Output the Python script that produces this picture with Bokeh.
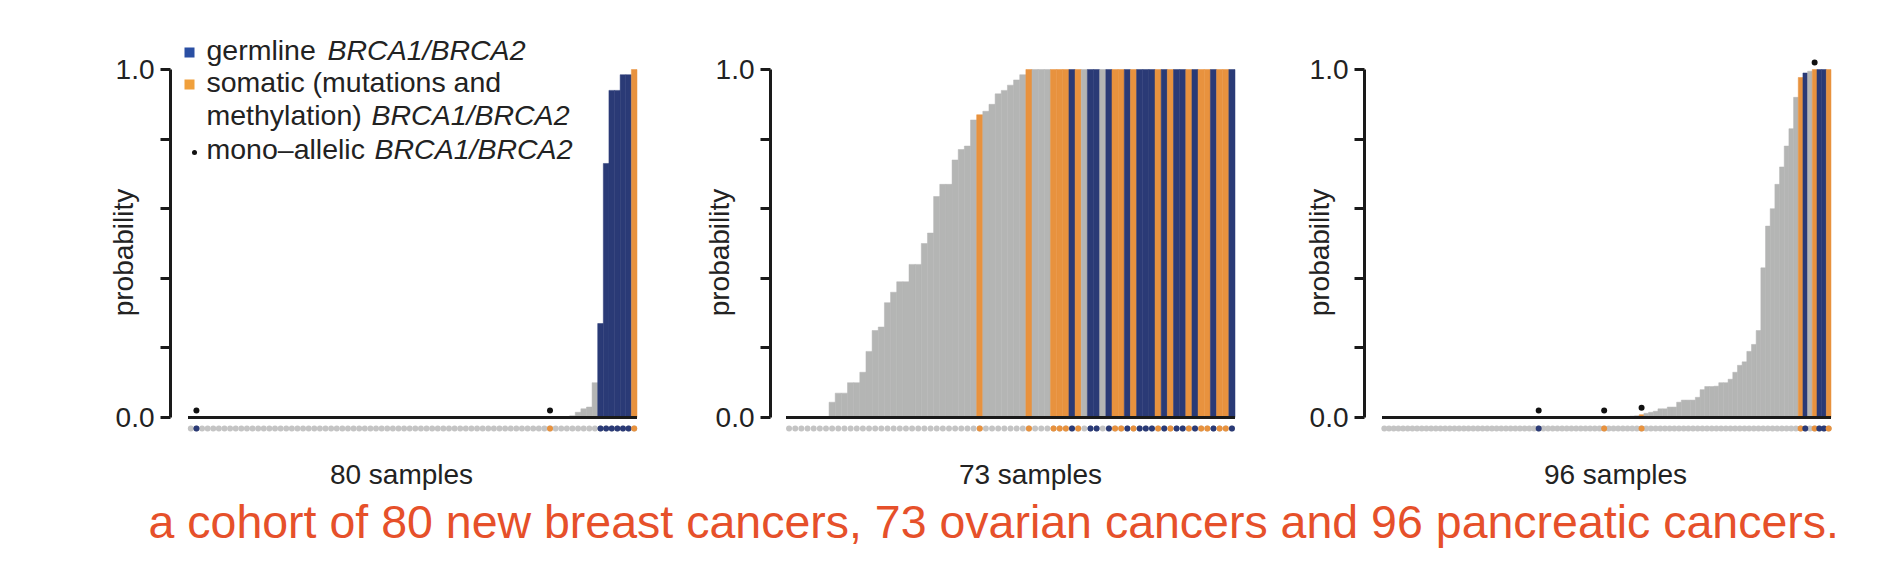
from bokeh.plotting import figure
from bokeh.models import Range1d, FixedTicker, CustomJSTickFormatter, ColumnDataSource
from bokeh.layouts import column, row
from bokeh.embed import file_html
from bokeh.resources import INLINE
from bokeh.core.properties import value

# ---------------- data ----------------
breast_prob = [
    0, 0, 0, 0, 0, 0, 0, 0, 0, 0,
    0, 0, 0, 0, 0, 0, 0, 0, 0, 0,
    0, 0, 0, 0, 0, 0, 0, 0, 0, 0,
    0, 0, 0, 0, 0, 0, 0, 0, 0, 0,
    0, 0, 0, 0, 0, 0, 0, 0, 0, 0,
    0, 0, 0, 0, 0, 0, 0, 0, 0, 0,
    0, 0, 0, 0, 0, 0, 0, 0, 0.005, 0.015,
    0.025, 0.03, 0.10, 0.27, 0.73, 0.94, 0.94, 0.985, 0.985, 1.0,
]
breast_germline = [1, 73, 74, 75, 76, 77, 78]
breast_somatic = [64, 79]
breast_mono = [1, 64]

ovarian_prob = [
    0, 0, 0, 0, 0, 0, 0, 0.044, 0.07, 0.07,
    0.10, 0.10, 0.13, 0.19, 0.25, 0.26, 0.33, 0.36, 0.39, 0.39,
    0.44, 0.44, 0.50, 0.53, 0.635, 0.67, 0.67, 0.74, 0.77, 0.78,
    0.855, 0.87, 0.88, 0.90, 0.93, 0.94, 0.955, 0.97, 0.985, 1.0,
    1.0, 1.0, 1.0, 1.0, 1.0, 1.0, 1.0, 1.0, 1.0, 1.0,
    1.0, 1.0, 1.0, 1.0, 1.0, 1.0, 1.0, 1.0, 1.0, 1.0,
    1.0, 1.0, 1.0, 1.0, 1.0, 1.0, 1.0, 1.0, 1.0, 1.0,
    1.0, 1.0, 1.0,
]
ovarian_germline = [46, 49, 50, 52, 55, 57, 58, 59, 61, 63, 64, 66, 69, 72]
ovarian_somatic = [31, 39, 43, 44, 45, 47, 53, 54, 56, 60, 62, 65, 67, 68, 70, 71]
ovarian_mono = []

pancreatic_prob = [
    0, 0, 0, 0, 0, 0, 0, 0, 0, 0,
    0, 0, 0, 0, 0, 0, 0, 0, 0, 0,
    0, 0, 0, 0, 0, 0, 0, 0, 0, 0,
    0, 0, 0, 0, 0, 0, 0, 0, 0, 0,
    0, 0, 0, 0, 0, 0, 0, 0, 0, 0,
    0, 0.002, 0.003, 0.004, 0.005, 0.008, 0.012, 0.015, 0.018, 0.025,
    0.025, 0.03, 0.03, 0.044, 0.05, 0.05, 0.05, 0.058, 0.08, 0.089,
    0.089, 0.09, 0.10, 0.10, 0.11, 0.13, 0.15, 0.16, 0.19, 0.21,
    0.25, 0.43, 0.55, 0.60, 0.67, 0.72, 0.78, 0.83, 0.92, 0.977,
    0.99, 0.995, 1.0, 1.0, 1.0, 1.0,
]
pancreatic_germline = [33, 90, 93, 94]
pancreatic_somatic = [47, 55, 89, 92, 95]
pancreatic_mono = [33, 47, 55, 92]

panel_labels = ["80 samples", "73 samples", "96 samples"]
legend_labels = [("germline ", "BRCA1/BRCA2"),
                 ("somatic (mutations and", ""),
                 ("methylation) ", "BRCA1/BRCA2"),
                 ("mono\u2013allelic ", "BRCA1/BRCA2")]
caption = "a cohort of 80 new breast cancers, 73 ovarian cancers and 96 pancreatic cancers."

# ---------------- style ----------------
GRAY = "#b4b5b4"
BLUE = "#2a3a76"
ORANGE = "#e8923e"
DOT_GRAY = "#c4c4c4"
TXT = "#222222"
AX = "#1a1a1a"
FONT = "Liberation Sans"

Y0_PX, PX_PER_UNIT = 417.0, 348.0        # page y of prob 0, px per prob unit
FRAME_TOP, FRAME_BOTTOM = 12, 492
FRAME_H = FRAME_BOTTOM - FRAME_TOP
BAR_SPAN = 449.0
Y_START = (Y0_PX - FRAME_BOTTOM) / PX_PER_UNIT
Y_END = (Y0_PX - FRAME_TOP) / PX_PER_UNIT
DOT_Y = -11.0 / PX_PER_UNIT
MONO_OFF = 0.02
LABEL_Y_PX = 474


def make_panel(prob, germ, som, mono, label, label_center_px,
               fig_left, border_left, frame_w, border_right, bar_gap_px,
               tick_standoff, label_standoff):
    n = len(prob)
    ppb = BAR_SPAN / n
    frame_left = fig_left + border_left
    bar_start = frame_left + bar_gap_px
    x0 = -bar_gap_px / ppb
    p = figure(frame_width=frame_w, frame_height=FRAME_H,
               min_border_left=border_left, min_border_right=border_right,
               min_border_top=FRAME_TOP, min_border_bottom=0,
               x_range=Range1d(x0, x0 + frame_w / ppb),
               y_range=Range1d(Y_START, Y_END),
               x_axis_location=None, y_axis_location="left",
               toolbar_location=None, output_backend="svg",
               outline_line_color=None, background_fill_color="white",
               border_fill_color="white")
    p.grid.grid_line_color = None

    colors = []
    for i in range(n):
        if i in germ:
            colors.append(BLUE)
        elif i in som:
            colors.append(ORANGE)
        else:
            colors.append(GRAY)
    xs = [i + 0.5 for i in range(n)]
    src = ColumnDataSource(dict(x=xs, top=prob, color=colors))
    p.vbar(x="x", width=1, top="top", bottom=0, fill_color="color",
           line_color="color", line_width=0.5, source=src)
    p.segment(x0=[0], y0=[0], x1=[n], y1=[0], line_width=3, line_color=AX)

    # sample status dot row
    p.scatter(x=xs, y=[DOT_Y] * n, size=6, marker="circle",
              fill_color=DOT_GRAY, line_color=None)
    cidx = [i for i in range(n) if colors[i] != GRAY]
    p.scatter(x=[xs[i] for i in cidx], y=[DOT_Y] * len(cidx), size=6,
              marker="circle", fill_color=[colors[i] for i in cidx], line_color=None)

    # mono-allelic markers
    if mono:
        p.scatter(x=[xs[i] for i in mono], y=[prob[i] + MONO_OFF for i in mono],
                  size=6, marker="circle", fill_color="#111111", line_color=None)

    p.text(x=[(label_center_px - bar_start) / ppb],
           y=[(Y0_PX - LABEL_Y_PX) / PX_PER_UNIT],
           text=[label], text_align="center", text_baseline="middle",
           text_font=value(FONT), text_font_size="28px", text_color=TXT)

    ax = p.yaxis[0]
    ax.ticker = FixedTicker(ticks=[0, 0.2, 0.4, 0.6, 0.8, 1.0])
    ax.formatter = CustomJSTickFormatter(
        code="return (Math.abs(tick) < 1e-6 || Math.abs(tick - 1) < 1e-6) ? tick.toFixed(1) : '';")
    ax.bounds = (0, 1)
    ax.axis_line_width = 3
    ax.axis_line_color = AX
    ax.major_tick_line_width = 3
    ax.major_tick_line_color = AX
    ax.major_tick_out = 10
    ax.major_tick_in = 0
    ax.minor_tick_line_color = None
    ax.major_label_text_font = FONT
    ax.major_label_text_font_size = "28px"
    ax.major_label_text_color = TXT
    ax.major_label_standoff = tick_standoff
    ax.axis_label = "probability"
    ax.axis_label_text_font = FONT
    ax.axis_label_text_font_style = "normal"
    ax.axis_label_text_font_size = "28px"
    ax.axis_label_text_color = TXT
    ax.axis_label_standoff = label_standoff
    return p, ppb, bar_start


p1, ppb1, bs1 = make_panel(breast_prob, breast_germline, breast_somatic, breast_mono,
                           panel_labels[0], 401, 0, 170, 480, 50, 17.5, 6, -26)
p2, ppb2, bs2 = make_panel(ovarian_prob, ovarian_germline, ovarian_somatic, ovarian_mono,
                           panel_labels[1], 1026, 700, 66, 480, 49, 15.5, 6, -22)
p3, ppb3, bs3 = make_panel(pancreatic_prob, pancreatic_germline, pancreatic_somatic, pancreatic_mono,
                           panel_labels[2], 1611, 1295, 65, 480, 28, 17.5, 6, -28)


# legend inside panel 1 (page pixel positions converted to panel-1 data units)
def lx(px):
    return (px - bs1) / ppb1


def ly(py):
    return (Y0_PX - py) / PX_PER_UNIT


p1.scatter(x=[lx(189)], y=[ly(52)], size=10, marker="square",
           fill_color="#2a4fa3", line_color=None)
p1.scatter(x=[lx(189)], y=[ly(84)], size=10, marker="square",
           fill_color="#f0a03c", line_color=None)
p1.scatter(x=[lx(194)], y=[ly(152)], size=5, marker="circle",
           fill_color="#111111", line_color=None)
baselines = [49, 81, 114, 148]
ital_x = [327, None, 371, 374]
for (plain, ital), by, ix in zip(legend_labels, baselines, ital_x):
    p1.text(x=[lx(206)], y=[ly(by)], text=[plain], text_align="left",
            text_baseline="alphabetic", text_font=value(FONT),
            text_font_size="28.5px", text_color=TXT)
    if ital:
        p1.text(x=[lx(ix)], y=[ly(by)], text=[ital], text_align="left",
                text_baseline="alphabetic", text_font=value(FONT),
                text_font_style="italic", text_font_size="28.5px", text_color=TXT)

CAP_TOP, CAP_BOTTOM = FRAME_BOTTOM, 562
cap_h = CAP_BOTTOM - CAP_TOP
pcap = figure(frame_width=1868, frame_height=cap_h, min_border=0,
              min_border_left=0, min_border_right=0, min_border_top=0, min_border_bottom=0,
              x_range=Range1d(0, 1868), y_range=Range1d(0, cap_h),
              x_axis_location=None, y_axis_location=None,
              toolbar_location=None, output_backend="svg",
              outline_line_color=None, background_fill_color="white",
              border_fill_color="white")
pcap.grid.grid_line_color = None
pcap.text(x=[148], y=[CAP_BOTTOM - 521], text=[caption],
          text_align="left", text_baseline="alphabetic", text_font=value(FONT),
          text_font_size="46.5px", text_color="#e6502a")

layout = column(row(p1, p2, p3, spacing=0), pcap, spacing=0)
open("out.html", "w").write(file_html(layout, INLINE))
